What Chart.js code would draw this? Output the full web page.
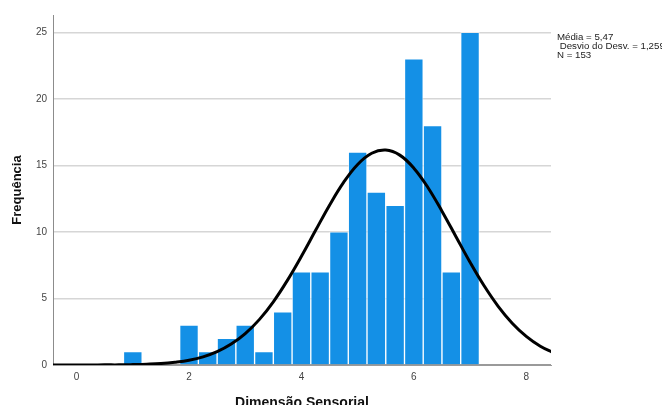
<!DOCTYPE html>
<html>
<head>
<meta charset="utf-8">
<script src="https://cdn.jsdelivr.net/npm/chart.js@4/dist/chart.umd.min.js"></script>
<style>
  body { margin: 0; background: #fff; }
  canvas { display: block; }
</style>
</head>
<body>
<canvas id="hist" width="662" height="405"></canvas>
<script>
// histogram bins (centre of each bin) and counts
const binCenters = [1, 1.333, 1.667, 2, 2.333, 2.667, 3, 3.333, 3.667, 4, 4.333, 4.667, 5, 5.333, 5.667, 6, 6.333, 6.667, 7];
const counts = [1, 0, 0, 3, 1, 2, 3, 1, 4, 7, 7, 10, 16, 13, 12, 23, 18, 7, 25];

// normal curve
const curveX = [-0.5, -0.25, 0, 0.25, 0.5, 0.75, 1, 1.25, 1.5, 1.75, 2, 2.25, 2.5, 2.75, 3, 3.25, 3.5, 3.75, 4, 4.25, 4.5, 4.75, 5, 5.25, 5.5, 5.75, 6, 6.25, 6.5, 6.75, 7, 7.25, 7.5, 7.75, 8, 8.25, 8.5];
const curveY = [0, 0, 0, 0, 0.01, 0.01, 0.03, 0.06, 0.11, 0.21, 0.36, 0.61, 1.0, 1.57, 2.36, 3.41, 4.75, 6.36, 8.17, 10.1, 12.01, 13.72, 15.07, 15.91, 16.15, 15.77, 14.79, 13.34, 11.56, 9.64, 7.72, 5.95, 4.41, 3.14, 2.15, 1.41, 0.89];

const xTicks = [0, 2, 4, 6, 8];
const yTicks = [0, 5, 10, 15, 20, 25];
const statsLines = ["Média = 5,47", " Desvio do Desv. = 1,259", "N = 153"];

const FONT = "Arial, 'Liberation Sans', sans-serif";

// texte des stats en haut a droite
const statsPlugin = {
  id: "stats",
  afterDraw(chart) {
    const ctx = chart.ctx;
    ctx.save();
    ctx.font = "9.7px " + FONT;
    ctx.fillStyle = "#222";
    ctx.textBaseline = "middle";
    ctx.textAlign = "left";
    statsLines.forEach((t, i) => ctx.fillText(t, 557, 37.5 + i * 9));
    ctx.restore();
  }
};

new Chart(document.getElementById("hist"), {
  data: {
    datasets: [
      {
        type: "line",
        data: curveX.map((x, i) => ({ x: x, y: curveY[i] })),
        borderColor: "#000",
        borderWidth: 3,
        pointRadius: 0,
        tension: 0.4,
        fill: false,
        order: 0
      },
      {
        type: "bar",
        data: binCenters.map((x, i) => ({ x: x, y: counts[i] })),
        backgroundColor: "#1490e6",
        borderColor: "rgba(255,255,255,0.55)",
        borderWidth: 1,
        barPercentage: 1,
        categoryPercentage: 1,
        order: 1
      }
    ]
  },
  options: {
    responsive: false,
    animation: false,
    layout: { padding: { top: 15, right: 111, left: 0, bottom: 0 } },
    plugins: { legend: { display: false }, tooltip: { enabled: false } },
    scales: {
      x: {
        type: "linear",
        offset: false,
        min: -0.42,
        max: 8.44,
        afterBuildTicks: s => { s.ticks = xTicks.map(v => ({ value: v })); },
        afterFit: s => { s.height = 40; },
        grid: { display: false, drawTicks: false, offset: false },
        border: { display: true, color: "#9a9a9a", width: 1 },
        ticks: { padding: 6, color: "#444", font: { size: 10, family: FONT }, maxRotation: 0 },
        title: {
          display: true,
          text: "Dimensão Sensorial",
          color: "#111",
          font: { size: 14, weight: "bold", family: FONT },
          padding: { top: 0, bottom: -7 }
        }
      },
      y: {
        min: 0,
        max: 26.3,
        afterBuildTicks: s => { s.ticks = yTicks.map(v => ({ value: v })); },
        afterFit: s => { s.width = 53; },
        grid: {
          drawTicks: false,
          color: c => (c.tick && c.tick.value === 0 ? "#9a9a9a" : "#d6d6d6"),
          lineWidth: 1.5
        },
        border: { display: true, color: "#8c8c8c", width: 1 },
        ticks: { padding: 6, color: "#444", font: { size: 10, family: FONT } },
        title: {
          display: true,
          text: "Frequência",
          color: "#111",
          font: { size: 13, weight: "bold", family: FONT },
          padding: { top: 10, bottom: 0 }
        }
      }
    }
  },
  plugins: [statsPlugin]
});
</script>
</body>
</html>
